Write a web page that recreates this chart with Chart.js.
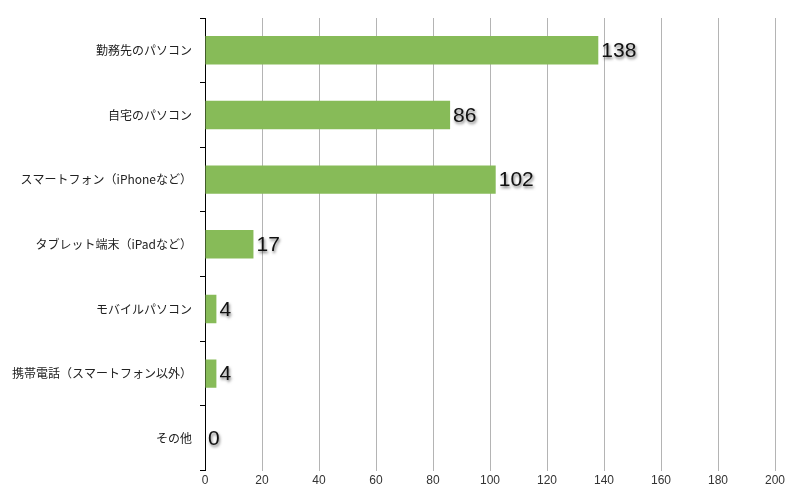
<!DOCTYPE html>
<html lang="ja">
  <head>
    <meta charset="utf-8" />
    <title>利用端末</title>
    <style>
      html, body {
        margin: 0;
        padding: 0;
        background: #ffffff;
        overflow: hidden;
      }
      .chartBox {
        width: 800px;
        height: 500px;
      }
    </style>
  </head>
  <body>
    <div class="chartBox">
      <canvas id="myChart" width="800" height="500"></canvas>
    </div>

    <script src="https://cdn.jsdelivr.net/npm/chart.js/dist/chart.umd.min.js"></script>
    <script>
      // data
      const categories = [
        "勤務先のパソコン",
        "自宅のパソコン",
        "スマートフォン（iPhoneなど）",
        "タブレット端末（iPadなど）",
        "モバイルパソコン",
        "携帯電話（スマートフォン以外）",
        "その他",
      ];
      const counts = [138, 86, 102, 17, 4, 4, 0];
      const xTicks = [0, 20, 40, 60, 80, 100, 120, 140, 160, 180, 200];

      const jpFont = "'Noto Sans CJK JP', 'Noto Sans', sans-serif";

      // value labels with a soft shadow, right of each bar
      const valueLabels = {
        id: "valueLabels",
        afterDatasetsDraw(chart) {
          const ctx = chart.ctx;
          const meta = chart.getDatasetMeta(0);
          ctx.save();
          ctx.font = "21px 'Liberation Sans', Arial, sans-serif";
          ctx.textAlign = "left";
          ctx.textBaseline = "middle";
          ctx.fillStyle = "#111";
          ctx.shadowColor = "rgba(0,0,0,0.55)";
          ctx.shadowBlur = 3;
          ctx.shadowOffsetX = 1;
          ctx.shadowOffsetY = 2;
          meta.data.forEach((bar, i) => {
            ctx.fillText(String(counts[i]), bar.x + 3, bar.y + 1);
          });
          ctx.restore();
        },
      };

      const config = {
        type: "bar",
        data: {
          labels: categories,
          datasets: [
            {
              data: counts,
              backgroundColor: "#87bb58",
              borderWidth: 0,
              barPercentage: 0.44,
              categoryPercentage: 1,
            },
          ],
        },
        options: {
          indexAxis: "y",
          responsive: false,
          animation: false,
          layout: {
            padding: { top: 18, right: 25, bottom: 9, left: 0 },
          },
          scales: {
            x: {
              min: 0,
              max: 200,
              afterBuildTicks: (axis) => {
                axis.ticks = xTicks.map((v) => ({ value: v }));
              },
              grid: {
                color: (c) => (c.tick && c.tick.value === 0 ? "rgba(0,0,0,0)" : "#b4b4b4"),
                lineWidth: 1,
                drawTicks: false,
              },
              border: { display: false },
              ticks: {
                padding: 3,
                color: "#333",
                font: { size: 12, family: "'Liberation Sans', Arial, sans-serif" },
                maxRotation: 0,
              },
            },
            y: {
              afterFit: (axis) => {
                axis.width = 205;
              },
              grid: {
                drawOnChartArea: false,
                drawTicks: true,
                tickLength: 5,
                color: "#000",
                offset: true,
              },
              border: { display: true, color: "#000", width: 1 },
              ticks: {
                padding: 8,
                color: "#222",
                font: { size: 12, family: jpFont },
              },
            },
          },
          plugins: {
            legend: { display: false },
            tooltip: { enabled: false },
          },
        },
        plugins: [valueLabels],
      };

      const myChart = new Chart(document.getElementById("myChart"), config);
    </script>
  </body>
</html>
